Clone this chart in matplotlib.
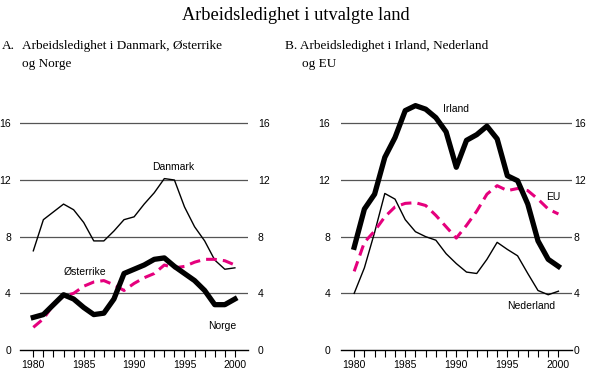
import matplotlib
matplotlib.use("Agg")
import matplotlib.pyplot as plt
import numpy as np

years = list(range(1980, 2001))

danmark = [7.0, 9.2, 9.75, 10.3, 9.9, 9.0, 7.7, 7.7, 8.4, 9.2, 9.4, 10.3, 11.1, 12.1, 12.0, 10.1, 8.7, 7.7, 6.35, 5.7, 5.8]
norge = [2.3, 2.5, 3.2, 3.9, 3.6, 3.0, 2.5, 2.6, 3.6, 5.4, 5.7, 6.0, 6.4, 6.5, 5.9, 5.4, 4.9, 4.2, 3.2, 3.2, 3.6]
osterrike = [1.6, 2.2, 3.2, 3.8, 4.0, 4.5, 4.8, 4.9, 4.6, 4.2, 4.7, 5.1, 5.4, 6.0, 5.8, 5.9, 6.2, 6.4, 6.4, 6.3, 6.0]

irland = [7.25, 9.95, 11.0, 13.6, 15.0, 16.9, 17.25, 17.0, 16.4, 15.4, 12.9, 14.8, 15.2, 15.8, 14.9, 12.3, 11.95, 10.3, 7.7, 6.4, 5.9]
nederland = [4.0, 5.8, 8.3, 11.05, 10.65, 9.2, 8.35, 8.0, 7.75, 6.8, 6.1, 5.5, 5.4, 6.4, 7.6, 7.1, 6.65, 5.4, 4.2, 3.9, 4.15]
eu = [5.55, 7.6, 8.4, 9.4, 10.1, 10.35, 10.4, 10.2, 9.5, 8.7, 7.9, 8.8, 9.8, 11.0, 11.6, 11.25, 11.4, 11.25, 10.65, 9.95, 9.6]

yticks = [0, 4, 8, 12, 16]
xticklabels = [1980, 1985, 1990, 1995, 2000]

MAG = "#e5007d"
SANS = "Liberation Sans"
SERIF = "Liberation Serif"

fig = plt.figure(figsize=(5.92, 3.71), dpi=100)
W, H = 592, 371

def make_ax(x0, x1, lpad, rpad):
    ax = fig.add_axes([x0 / W, 1 - 350 / H, (x1 - x0) / W, 255 / H])
    ax.set_xlim(1978.68, 2001.3)
    ax.set_ylim(0, 18)
    for s in ["top", "right", "left"]:
        ax.spines[s].set_visible(False)
    ax.spines["bottom"].set_linewidth(1.0)
    ax.spines["bottom"].set_color("black")
    for v in yticks[1:]:
        ax.axhline(v, color="#555555", lw=0.9, zorder=0)
    ax.set_xticks(years, minor=True)
    ax.set_xticks(xticklabels)
    ax.set_xticklabels([str(v) for v in xticklabels], fontfamily=SANS, fontsize=7.5)
    ax.tick_params(axis="x", which="both", direction="out", length=5, width=0.8, pad=2)
    ax.set_yticks(yticks)
    ax.set_yticklabels([str(v) for v in yticks], fontfamily=SANS, fontsize=7.5)
    ax.tick_params(axis="y", which="both", length=0, pad=lpad)
    sec = ax.secondary_yaxis("right")
    sec.spines["right"].set_visible(False)
    sec.set_yticks(yticks)
    sec.set_yticklabels([str(v) for v in yticks], fontfamily=SANS, fontsize=7.5)
    sec.tick_params(axis="y", length=0, pad=rpad)
    return ax

axA = make_ax(20, 248, 6.5, 7.0)
axA.plot(years, danmark, color="black", lw=1.0, zorder=3)
axA.plot(years, osterrike, color=MAG, lw=2.2, dashes=(3.5, 2.0), zorder=3)
axA.plot(years, norge, color="black", lw=3.8, zorder=4, solid_joinstyle="round")
axA.text(1991.8, 12.9, "Danmark", fontfamily=SANS, fontsize=7.5, ha="left", va="center")
axA.text(1983.0, 5.5, "Østerrike", fontfamily=SANS, fontsize=7.5, ha="left", va="center")
axA.text(1997.3, 1.7, "Norge", fontfamily=SANS, fontsize=7.5, ha="left", va="center")

axB = make_ax(340.7, 571.7, 7.5, 1.5)
axB.plot(years, nederland, color="black", lw=1.0, zorder=3)
axB.plot(years, eu, color=MAG, lw=2.2, dashes=(3.5, 2.0), zorder=3)
axB.plot(years, irland, color="black", lw=3.8, zorder=4, solid_joinstyle="round")
axB.text(1990.0, 17.0, "Irland", fontfamily=SANS, fontsize=7.5, ha="center", va="center")
axB.text(1998.8, 10.8, "EU", fontfamily=SANS, fontsize=7.5, ha="left", va="center")
axB.text(1995.0, 3.1, "Nederland", fontfamily=SANS, fontsize=7.5, ha="left", va="center")

fig.text(0.5, 1 - 15 / H, "Arbeidsledighet i utvalgte land", fontfamily=SERIF, fontsize=13.2,
         ha="center", va="center")
fig.text(2 / W, 1 - 46 / H, "A.", fontfamily=SERIF, fontsize=9.5, ha="left", va="center")
fig.text(22 / W, 1 - 46 / H, "Arbeidsledighet i Danmark, Østerrike", fontfamily=SERIF, fontsize=9.5, ha="left", va="center")
fig.text(22 / W, 1 - 64 / H, "og Norge", fontfamily=SERIF, fontsize=9.5, ha="left", va="center")
fig.text(285 / W, 1 - 46 / H, "B. Arbeidsledighet i Irland, Nederland", fontfamily=SERIF, fontsize=9.5, ha="left", va="center")
fig.text(302 / W, 1 - 64 / H, "og EU", fontfamily=SERIF, fontsize=9.5, ha="left", va="center")

fig.savefig("out.png", dpi=100)
